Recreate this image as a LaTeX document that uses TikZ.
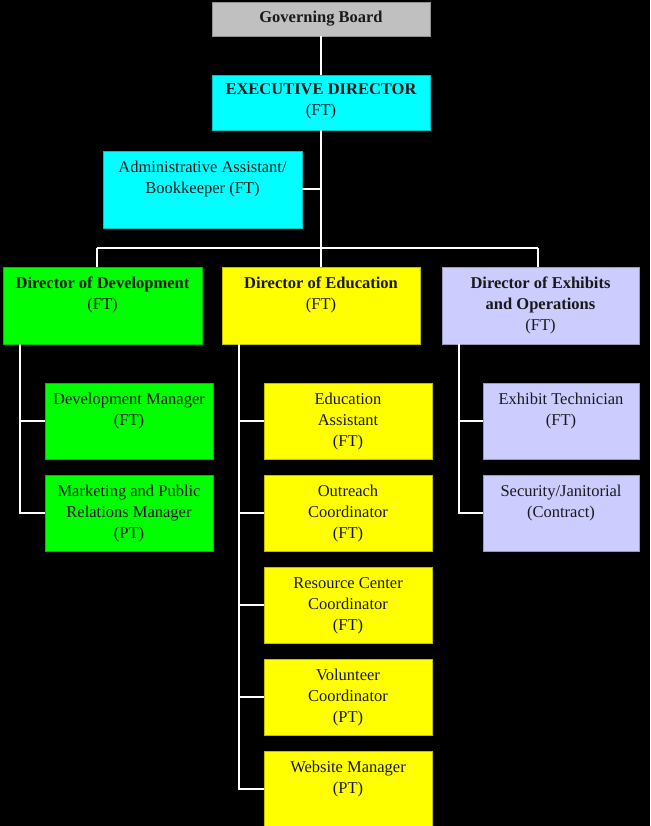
\documentclass[tikz,border=0pt]{standalone}
\usepackage{fontspec}
\setmainfont{Liberation Serif}
\newfontfamily\orgfont{Liberation Serif}
\begin{document}
\begin{tikzpicture}[x=1pt,y=-1pt,
  box/.style={draw=#1!75!black, line width=0.6pt, fill=#1, inner sep=0pt},
  lbl/.style={anchor=north, inner sep=0pt, align=center, text=black!90,
    font=\orgfont\fontsize{16.5}{21}\selectfont},
  blbl/.style={lbl, font=\orgfont\fontsize{16.5}{21}\selectfont\bfseries},
  conn/.style={draw=white, line width=2pt}]
\definecolor{gov}{HTML}{C0C0C0}
\definecolor{cy}{HTML}{00FFFF}
\definecolor{gr}{HTML}{00FF00}
\definecolor{ye}{HTML}{FFFF00}
\definecolor{la}{HTML}{CCCCFF}
\fill[black] (0,0) rectangle (650,826);
\useasboundingbox (0,0) rectangle (650,826);
% boxes
\node[box=gov, minimum width=218, minimum height=34] (gov) at (321,19) {};
\node[box=cy, minimum width=218, minimum height=55] (exec) at (321,102.5) {};
\node[box=cy, minimum width=199, minimum height=77] (admin) at (202.5,189.5) {};
\node[box=gr, minimum width=199, minimum height=77] (dev) at (102.5,305.5) {};
\node[box=ye, minimum width=198, minimum height=77] (edu) at (321,305.5) {};
\node[box=la, minimum width=197, minimum height=77] (exh) at (540.5,305.5) {};
\node[box=gr, minimum width=168, minimum height=76] (devm) at (129,421) {};
\node[box=gr, minimum width=168, minimum height=76] (mkt) at (129,513) {};
\node[box=ye, minimum width=168, minimum height=76] (edua) at (348,421) {};
\node[box=ye, minimum width=168, minimum height=76] (outr) at (348,513) {};
\node[box=ye, minimum width=168, minimum height=76] (resc) at (348,605) {};
\node[box=ye, minimum width=168, minimum height=76] (volc) at (348,697) {};
\node[box=ye, minimum width=168, minimum height=76] (webm) at (348,789) {};
\node[box=la, minimum width=156, minimum height=76] (exht) at (561,421) {};
\node[box=la, minimum width=156, minimum height=76] (secj) at (561,513) {};
% connector points
\coordinate (busL) at (97,248);
\coordinate (busM) at (exec.south |- busL);
\coordinate (busR) at (538,248);
\coordinate (devV) at (20,344);
\coordinate (eduV) at (239,344);
\coordinate (exhV) at (459,344);
% lines
\draw[conn] (gov.south) -- (exec.north);
\draw[conn] (exec.south) -- (busM);
\draw[conn] (admin.east) -- (admin.east -| busM);
\draw[conn] (busL) -- (busR);
\draw[conn] (busL) -- (busL |- dev.north);
\draw[conn] (busM) -- (busM |- edu.north);
\draw[conn] (busR) -- (busR |- exh.north);
\draw[conn] (devV) |- (mkt.west);
\draw[conn] (devm.west) -- (devm.west -| devV);
\draw[conn] (eduV) |- (webm.west);
\foreach \b in {edua,outr,resc,volc}{\draw[conn] (\b.west) -- (\b.west -| eduV);}
\draw[conn] (exhV) |- (secj.west);
\draw[conn] (exht.west) -- (exht.west -| exhV);
% labels
\node[blbl, anchor=center] (tgov) at (gov.center) {Governing Board};
\node[blbl] (texec) at ([yshift=-5]exec.north) {\strut EXECUTIVE DIRECTOR\\\mdseries (FT)};
\node[lbl] (tadmin) at ([yshift=-7]admin.north) {\strut Administrative Assistant/\\Bookkeeper (FT)};
\node[blbl] (tdev) at ([yshift=-7]dev.north) {\strut Director of Development\\\mdseries (FT)};
\node[blbl] (tedu) at ([yshift=-7]edu.north) {\strut Director of Education\\\mdseries (FT)};
\node[blbl] (texh) at ([yshift=-7]exh.north) {\strut Director of Exhibits\\and Operations\\\mdseries (FT)};
\node[lbl] (tdevm) at ([yshift=-6.5]devm.north) {\strut Development Manager\\(FT)};
\node[lbl] (tmkt) at ([yshift=-6.5]mkt.north) {\strut Marketing and Public\\Relations Manager\\(PT)};
\node[lbl] (tedua) at ([yshift=-6.5]edua.north) {\strut Education\\Assistant\\(FT)};
\node[lbl] (toutr) at ([yshift=-6.5]outr.north) {\strut Outreach\\Coordinator\\(FT)};
\node[lbl] (tresc) at ([yshift=-6.5]resc.north) {\strut Resource Center\\Coordinator\\(FT)};
\node[lbl] (tvolc) at ([yshift=-6.5]volc.north) {\strut Volunteer\\Coordinator\\(PT)};
\node[lbl] (twebm) at ([yshift=-6.5]webm.north) {\strut Website Manager\\(PT)};
\node[lbl] (texht) at ([yshift=-6.5]exht.north) {\strut Exhibit Technician\\(FT)};
\node[lbl] (tsecj) at ([yshift=-6.5]secj.north) {\strut Security/Janitorial\\(Contract)};
\end{tikzpicture}
\end{document}
